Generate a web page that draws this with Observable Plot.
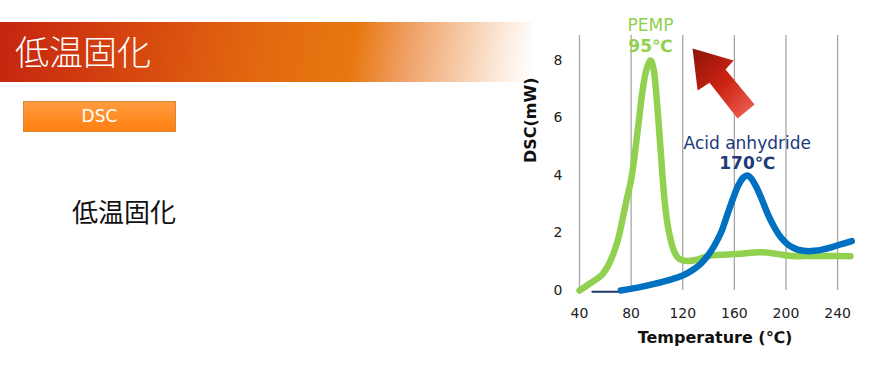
<!DOCTYPE html>
<html><head><meta charset="utf-8">
<script src="https://cdn.jsdelivr.net/npm/d3@7"></script>
<script src="https://cdn.jsdelivr.net/npm/@observablehq/plot@0.6"></script>
<style>
body{margin:0;background:#fff;}
#page{position:relative;width:889px;height:365px;overflow:hidden;font-family:"DejaVu Sans",sans-serif;}
#band{position:absolute;left:0;top:22px;width:532px;height:60px;
 background:linear-gradient(100deg,#c4250f 0%,#d6460f 25%,#e36a10 50%,#e8770f 66%,#efa066 76%,#f6cba8 86%,#fdf0e6 95%,rgba(255,255,255,0) 100%);}
#title{position:absolute;left:15px;top:28px;color:#fff;font-family:"Noto Sans CJK JP";font-weight:300;font-size:34px;line-height:46px;}
#btn{position:absolute;left:23px;top:101px;width:151px;height:29px;border:1px solid #d9853a;
 background:linear-gradient(#ff9b40,#ff8010);color:#fff;font-size:17px;line-height:29px;text-align:center;font-family:"DejaVu Sans";}
#body{position:absolute;left:72px;top:193px;font-family:"Noto Sans CJK JP";font-size:26px;line-height:36px;color:#111;}
#chart{position:absolute;left:515px;top:0;}
</style></head>
<body><div id="page">
<div id="band"></div><div id="title">低温固化</div>
<div id="btn">DSC</div>
<div id="body">低温固化</div>
<div id="chart"></div>
</div>
<script>
// PEMP curve (temperature °C, DSC mW)
const pempT = [40,45,50,55,58,62,66,70,73,76,80,83,86,89,92,95,97,99,101,103,105,107,109,111,113,116,120,125,130,140,150,165,180,192,205,220,235,250];
const pempV = [0,0.15,0.3,0.45,0.58,0.85,1.25,1.8,2.4,3.05,3.85,4.8,5.9,7.0,7.7,8.0,7.8,7.1,6.0,4.8,3.6,2.7,2.1,1.7,1.4,1.15,1.05,1.03,1.06,1.2,1.24,1.28,1.33,1.28,1.2,1.2,1.2,1.19];
// Acid anhydride curve
const acidT = [72,85,98,110,120,128,134,140,145,150,155,159,163,167,170,173,177,181,186,191,196,201,206,211,216,222,228,235,242,251];
const acidV = [0,0.1,0.23,0.37,0.52,0.72,0.93,1.25,1.6,2.05,2.7,3.2,3.65,3.93,4.0,3.9,3.6,3.2,2.65,2.2,1.85,1.62,1.48,1.4,1.37,1.38,1.42,1.5,1.6,1.72];
// thin baseline segment
const baseT = [50,72];
const baseV = [-0.04,-0.04];
const xTicks = [40,80,120,160,200,240];
const yTicks = [0,2,4,6,8];
// decorative arrow outline in data coordinates
const arrowT = [127.6,159.4,153.2,175.7,162.5,140.8,131.5,127.6];
const arrowV = [8.42,8.0,7.69,6.47,5.98,7.23,6.96,8.42];
// annotations
const noteText = ["PEMP","95℃","Acid anhydride","170℃"];
const noteT = [95,95,170,170];
const noteV = [9.2,8.5,5.12,4.42];
const noteColor = ["#92d050","#92d050","#203a7a","#203a7a"];
const noteWeight = ["normal","bold","normal","bold"];
const noteSize = [17,17,17,17];

const pemp = pempT.map((t,i)=>({t,v:pempV[i]}));
const acid = acidT.map((t,i)=>({t,v:acidV[i]}));
const base = baseT.map((t,i)=>({t,v:baseV[i]}));
const arrow = arrowT.map((t,i)=>({t,v:arrowV[i]}));
const notes = noteText.map((s,i)=>({s,t:noteT[i],v:noteV[i],c:noteColor[i],w:noteWeight[i],f:noteSize[i]}));

const chart = Plot.plot({
  width:374, height:365,
  marginLeft:64, marginRight:39, marginTop:35, marginBottom:75,
  x:{domain:[40,250]},
  y:{domain:[0,8.87]},
  style:{fontFamily:"DejaVu Sans", fontSize:"14px", color:"#222", background:"transparent", overflow:"visible"},
  marks:[
    Plot.axisX({ticks:xTicks, tickSize:0, tickPadding:18, label:null, fontSize:14, fill:"#222"}),
    Plot.axisY({ticks:yTicks, tickSize:0, tickPadding:17, label:null, fontSize:14, fill:"#222"}),
    Plot.ruleX(xTicks,{x:d=>d, stroke:"#a6a6a6", strokeWidth:1.3}),
    Plot.line(arrow,{x:"t",y:"v",fill:"url(#arrowGrad)",stroke:"none"}),
    Plot.line(base,{x:"t",y:"v",stroke:"#1f3864",strokeWidth:2}),
    Plot.line(pemp,{x:"t",y:"v",stroke:"#92d050",strokeWidth:6.5,curve:"catmull-rom",strokeLinecap:"round",strokeLinejoin:"round"}),
    Plot.line(acid,{x:"t",y:"v",stroke:"#0070c0",strokeWidth:6.5,curve:"catmull-rom",strokeLinecap:"round",strokeLinejoin:"round"}),
    ...notes.map(n=>Plot.text([n],{x:"t",y:"v",text:"s",fill:n.c,fontWeight:n.w,fontSize:n.f})),
    Plot.text(["DSC(mW)"],{frameAnchor:"left",dx:-49,dy:0,rotate:-90,fontWeight:"bold",fontSize:16,fill:"#111"}),
    Plot.text(["Temperature (℃)"],{frameAnchor:"bottom",dy:52,fontWeight:"bold",fontSize:16,fill:"#111"})
  ]
});
const ns="http://www.w3.org/2000/svg";
const defs=document.createElementNS(ns,"defs");
defs.innerHTML='<linearGradient id="arrowGrad" x1="0" y1="0" x2="1" y2="1"><stop offset="0" stop-color="#8a1608"/><stop offset="0.5" stop-color="#cc2212"/><stop offset="1" stop-color="#f2685a"/></linearGradient>';
chart.insertBefore(defs, chart.firstChild);
document.getElementById("chart").appendChild(chart);
</script>
</body></html>
